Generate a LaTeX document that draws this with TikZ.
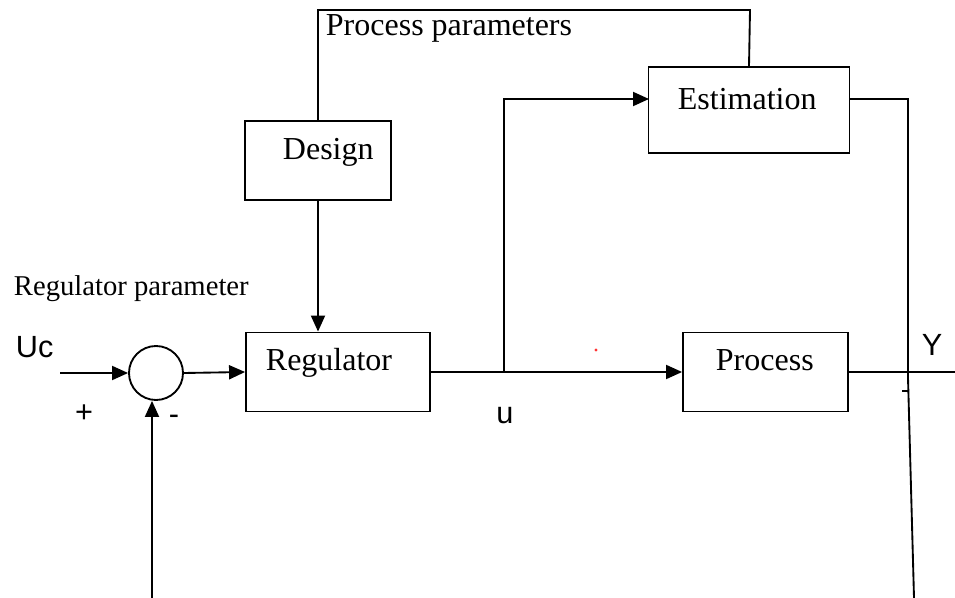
\documentclass[tikz,border=0pt]{standalone}
\usepackage{fontspec}
\setmainfont{Liberation Serif}
\setsansfont{Liberation Sans}
\usepackage{tikz}
\usetikzlibrary{arrows.meta}
\tikzset{
    blk/.style={draw, line width=1.4pt, rectangle, inner sep=0pt},
    arr/.style={-{Triangle[length=12pt,width=10.5pt]}},
    lbl/.style={inner sep=0pt, font=\fontsize{24}{28}\selectfont},
    sans/.style={inner sep=0pt, font=\sffamily\fontsize{23}{27}\selectfont}
}

\begin{document}
\begin{tikzpicture}[x=0.75pt,y=-0.75pt,line width=1.4pt]
        \useasboundingbox (0,0) rectangle (955,598);
        \node[blk, minimum width=146*0.75pt, minimum height=79*0.75pt] (des) at (318,160.5) {};
        \node[blk, minimum width=201*0.75pt, minimum height=86*0.75pt] (est) at (749,110) {};
        \node[blk, minimum width=184*0.75pt, minimum height=79*0.75pt] (reg) at (338,372) {};
        \node[blk, minimum width=165*0.75pt, minimum height=79*0.75pt] (pro) at (765.5,372) {};
        \node[draw, circle, line width=1.4pt, minimum size=54*0.75pt, inner sep=0pt] (sum) at (156,373) {};

        \node[lbl, anchor=base west] (destxt) at (282,160) {Design};
        \node[lbl, anchor=base west] (esttxt) at (677,110) {Estimation};
        \node[lbl, anchor=base west] (regtxt) at (265,370) {Regulator};
        \node[lbl, anchor=base west] (protxt) at (715,370) {Process};
        \node[lbl, anchor=base west] (pp) at (325,36) {Process parameters};
        \node[lbl, anchor=base west, font=\fontsize{21.5}{26}\selectfont] (rp) at (13,296) {Regulator parameter};
        \node[sans, anchor=base west] (uc) at (15,357) {Uc};
        \node[sans, anchor=base] (u) at (505,423) {u};
        \node[sans, anchor=base west] (y) at (921,355) {Y};
        \node[sans, anchor=base] (plus) at (84,422) {+};
        \node[sans, anchor=base] (minus) at (174,424) {-};

        \coordinate (ucin) at (60,373);
        \coordinate (br) at (504,372);
        \coordinate (estin) at (649,99);
        \coordinate (estout) at (850,99);
        \coordinate (tr) at (750,10);
        \coordinate (rc1) at (908,99);
        \coordinate (rc2) at (908,378);
        \coordinate (rc3) at (914,598);
        \coordinate (yout) at (955,372);
        \coordinate (fb) at (152,598);

        \draw[arr] (ucin) -- (sum.west);
        \draw[arr] (sum.east) -- (reg.west);
        \draw (des.north) |- (tr) -- (est.north);
        \draw[arr] (des.south) -- (des.south |- reg.north);
        \draw (reg.east) -- (br);
        \draw[arr] (br) -- (pro.west);
        \draw[arr] (br) |- (estin);
        \draw (pro.east) -- (yout);
        \draw (estout) -- (rc1) -- (rc2) -- (rc3);
        \draw (902,391) -- (908,391);
        \draw[arr] (fb) -- (fb |- sum.south);
        \fill[red!80] (596,350) circle (1.3pt);
    \end{tikzpicture}
\end{document}
